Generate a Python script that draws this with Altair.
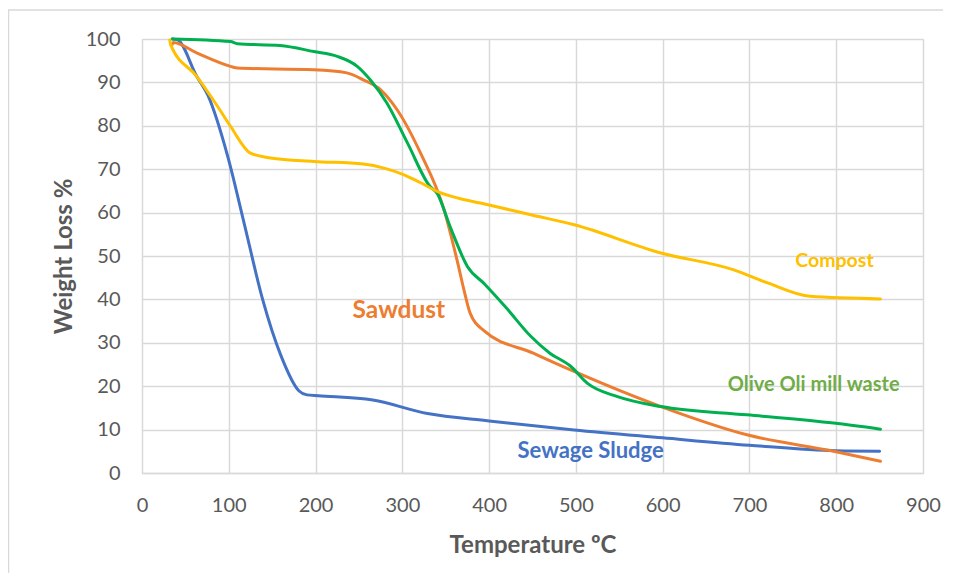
import altair as alt
import pandas as pd

# --- data ---
sewage_t = [35, 41, 63, 76, 99, 118, 139, 160, 181, 190, 203, 266, 329, 400, 498, 600, 700, 800, 850]
sewage_w = [100, 99.8, 91.4, 87.0, 72.8, 57.3, 40.0, 27.1, 18.9, 18.0, 17.8, 16.8, 13.7, 12.0, 9.9, 8.1, 6.4, 5.1, 5.0]

sawdust_t = [35, 36, 63, 102, 110, 198, 236, 255, 275, 294, 321, 348, 363, 371, 378, 394, 451, 498, 598, 697, 797, 851]
sawdust_w = [98.8, 99.2, 96.8, 93.7, 93.3, 92.9, 92.2, 90.6, 88.3, 83.7, 73.7, 60.7, 49.1, 42.2, 36.9, 32.8, 27.6, 23.4, 15.3, 8.8, 5.0, 2.7]

olive_t = [35, 102, 110, 159, 198, 225, 248, 263, 282, 306, 332, 340, 355, 375, 395, 420, 448, 470, 494, 513, 548, 598, 697, 797, 851]
olive_w = [100, 99.4, 98.9, 98.5, 97.1, 96.0, 93.7, 90.6, 85.3, 76.0, 66.0, 64.5, 56.8, 47.6, 43.5, 38.0, 31.5, 27.6, 24.6, 20.7, 17.6, 15.3, 13.4, 11.5, 10.1]

compost_t = [32, 33, 63, 87, 102, 125, 148, 198, 255, 280, 302, 320, 340, 365, 390, 448, 498, 598, 682, 721, 770, 851]
compost_w = [99.8, 98.7, 91.4, 84.5, 79.9, 73.7, 72.6, 71.8, 71.2, 70.2, 68.7, 67.0, 64.9, 63.3, 62.2, 59.5, 57.2, 50.7, 46.8, 43.8, 40.7, 40.1]

series_names = ["Sewage Sludge", "Sawdust", "Olive Oli mill waste", "Compost"]
series_colors = ["#4472C4", "#ED7D31", "#00B050", "#FFC000"]
label_colors = ["#4472C4", "#ED7D31", "#70AD47", "#FFC000"]
label_t = [517, 296, 774, 798]
label_w = [5.1, 37.4, 20.2, 48.8]
label_size = [22, 24.5, 20, 19.5]

x_ticks = [0, 100, 200, 300, 400, 500, 600, 700, 800, 900]
y_ticks = [0, 10, 20, 30, 40, 50, 60, 70, 80, 90, 100]

rows = []
for name, ts, ws in zip(series_names, [sewage_t, sawdust_t, olive_t, compost_t],
                        [sewage_w, sawdust_w, olive_w, compost_w]):
    for i, (t, w) in enumerate(zip(ts, ws)):
        rows.append({"series": name, "T": t, "W": w, "order": i})
df = pd.DataFrame(rows)

labels = pd.DataFrame({"series": series_names, "T": label_t, "W": label_w})

FONT = "Lato"
GRAY = "#595959"

x_scale = alt.Scale(domain=[0, 900], nice=False)
y_scale = alt.Scale(domain=[0, 100], nice=False)

border = alt.Chart(pd.DataFrame({"a": [0]})).mark_rect(
    fill=None, stroke="#D9D9D9", strokeWidth=1.5, clip=False
).encode(x=alt.value(-133.5), x2=alt.value(1000), y=alt.value(-29), y2=alt.value(700))

lines = alt.Chart(df).mark_line(strokeWidth=3, interpolate="monotone", strokeCap="round").encode(
    x=alt.X("T:Q", scale=x_scale,
            axis=alt.Axis(title="Temperature ºC", values=x_ticks, grid=True, gridColor="#D9D9D9",
                          gridWidth=1.5, domain=True, domainColor="#D9D9D9", domainWidth=1.5,
                          ticks=False, labelFontSize=20, labelColor=GRAY, labelFont=FONT,
                          labelFlush=False, labelOverlap=False,
                          labelPadding=22, titleFontSize=24, titleColor=GRAY, titleFont=FONT,
                          titleFontWeight="bold", titlePadding=18)),
    y=alt.Y("W:Q", scale=y_scale,
            axis=alt.Axis(title="Weight Loss %", values=y_ticks, grid=True, gridColor="#D9D9D9",
                          gridWidth=1.5, domain=False, ticks=False, labelFontSize=20,
                          labelFlush=False, labelOverlap=False,
                          labelColor=GRAY, labelFont=FONT, labelPadding=22, titleFontSize=24,
                          titleColor=GRAY, titleFont=FONT, titleFontWeight="bold",
                          titlePadding=9)),
    color=alt.Color("series:N", scale=alt.Scale(domain=series_names, range=series_colors), legend=None),
    order="order:Q",
    detail="series:N",
)

texts = []
for i in range(len(series_names)):
    texts.append(
        alt.Chart(labels.iloc[[i]]).mark_text(
            font=FONT, fontWeight="bold", fontSize=label_size[i], color=label_colors[i],
            align="center", baseline="middle"
        ).encode(x=alt.X("T:Q", scale=x_scale), y=alt.Y("W:Q", scale=y_scale), text="series:N")
    )

chart = alt.layer(border, lines, *texts).properties(
    width=781, height=434,
    autosize=alt.AutoSizeParams(type="none"),
    padding={"left": 134, "top": 31, "right": 20, "bottom": 100},
).configure_view(stroke=None).configure(background="white")

chart.save("out.html", embed_options={"renderer": "svg", "actions": False})
